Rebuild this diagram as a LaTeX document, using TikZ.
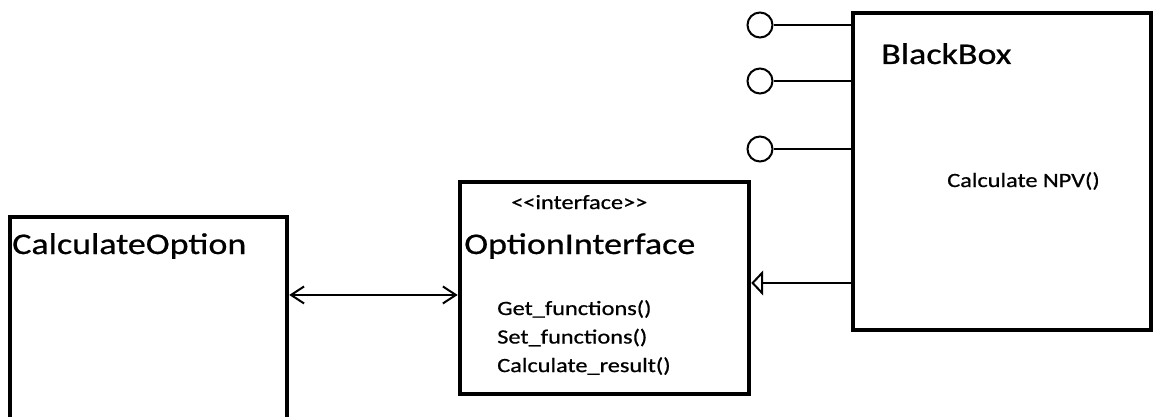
\documentclass[tikz,border=0pt]{standalone}
\usepackage{fontspec}
\setmainfont{Carlito}[FakeStretch=1.2, FakeBold=0.7]
\usetikzlibrary{arrows.meta, positioning}

\begin{document}
\begin{tikzpicture}[
    x=0.75pt, y=-0.75pt,
    classbox/.style={draw, line width=3.4pt, inner sep=0pt, anchor=north west},
    classname/.style={inner sep=0pt, anchor=base west, font=\fontsize{22.5pt}{27pt}\selectfont},
    member/.style={inner sep=0pt, anchor=base west, font=\fontsize{15.2pt}{21.4pt}\selectfont},
    port/.style={draw, circle, line width=1.5pt, minimum size=18.75pt, inner sep=0pt},
    wire/.style={line width=1.5pt},
    assoc/.style={{Straight Barb[length=9.75pt, width=12.75pt]}-{Straight Barb[length=9.75pt, width=12.75pt]}, line width=1.5pt},
    realize/.style={-{Triangle[open, length=9pt, width=18.75pt]}, line width=1.5pt}
]
    \clip (0,0) rectangle (1155,417);

    % Classes
    \node[classbox, minimum width=207.75pt, minimum height=167.25pt] (calc) at (7.7,214.7) {};
    \node[classbox, minimum width=216.75pt, minimum height=159pt] (iface) at (457.7,179.7) {};
    \node[classbox, minimum width=223.5pt, minimum height=237.75pt] (blackbox) at (850.7,10.7) {};

    % Class names and members
    \node[classname] (calcname) at ([shift={(4.3,39.3)}]calc.north west) {CalculateOption};
    \node[member] (stereo) at ([shift={(53.3,29.3)}]iface.north west) {<\kern0pt<interface>\kern0pt>};
    \node[classname] (ifacename) at ([shift={(6.3,74.3)}]iface.north west) {OptionInterface};
    \node[member] (getfn) at ([shift={(39.3,135.3)}]iface.north west) {Get\_functions()};
    \node[member] (setfn) at ([yshift=-21.4pt]getfn.base west) {Set\_functions()};
    \node[member] (resultfn) at ([yshift=-21.4pt]setfn.base west) {Calculate\_result()};
    \node[classname] (bbname) at ([shift={(30.3,53.3)}]blackbox.north west) {BlackBox};
    \node[member] (npv) at ([shift={(96.3,176.3)}]blackbox.north west) {Calculate NPV()};

    % Provided interfaces
    \node[port] (port1) at (760,25) {};
    \node[port] (port2) at (760,81) {};
    \node[port] (port3) at (760,149) {};
    \draw[wire] (port1) -- (port1 -| blackbox.west);
    \draw[wire] (port2) -- (port2 -| blackbox.west);
    \draw[wire] (port3) -- (port3 -| blackbox.west);

    % Relations
    \coordinate (assocy) at ([yshift=-5.25pt]iface.west);
    \draw[assoc] (calc.east |- assocy) -- (assocy);
    \coordinate (genhead) at ([yshift=3.75pt]iface.east);
    \draw[realize] (blackbox.west |- genhead) -- (genhead);
\end{tikzpicture}
\end{document}
